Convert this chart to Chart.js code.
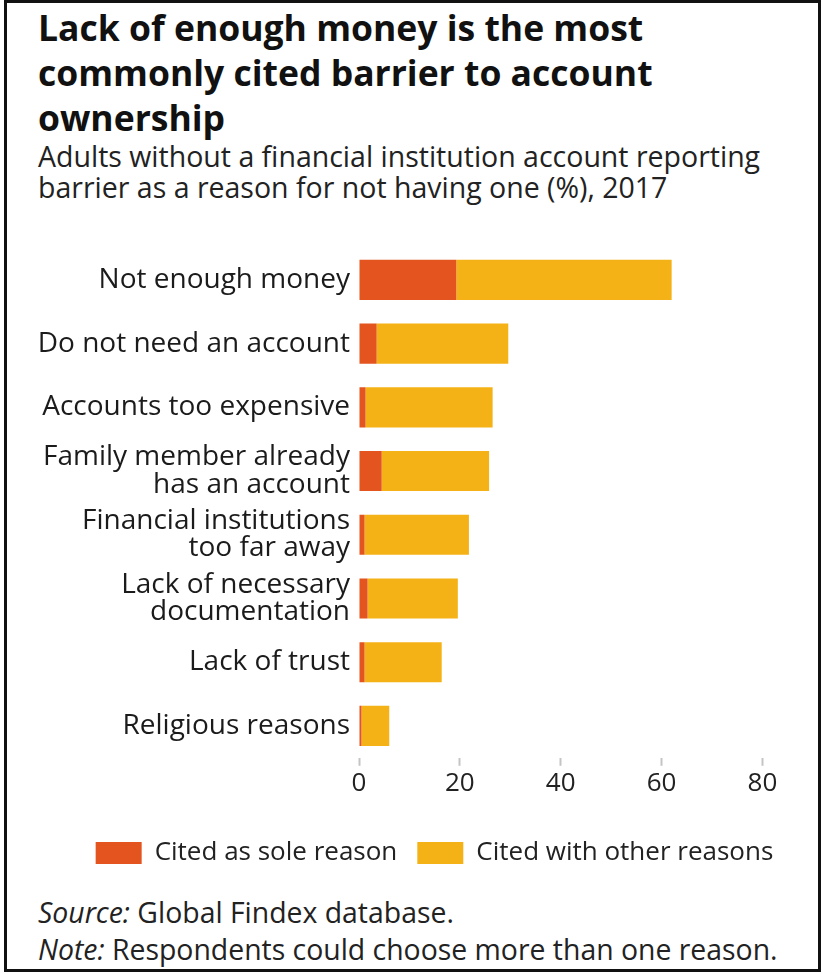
<!DOCTYPE html>
<html>
<head>
<meta charset="utf-8">
<script src="https://cdn.jsdelivr.net/npm/chart.js@4.4.1/dist/chart.umd.min.js"></script>
<style>
  body { margin: 0; background: #fff; }
  #page { position: relative; width: 822px; height: 974px; overflow: hidden; font-family: 'Open Sans', sans-serif; color: #1b1b1b; }
  #frame { position: absolute; left: 4px; top: 0px; width: 811px; height: 966px; border: 3px solid #111; }
  #title { position: absolute; left: 38px; top: 5px; margin: 0; font-family: 'Open Sans', sans-serif; font-weight: 700; font-size: 35.5px; line-height: 45px; color: #111; }
  #subtitle { position: absolute; left: 38px; top: 141px; margin: 0; font-size: 28.5px; line-height: 31px; color: #222; }
  #wrap { position: absolute; left: 0; top: 230px; width: 833px; height: 646px; }
  #notes { position: absolute; left: 38px; top: 894px; margin: 0; font-size: 28.4px; line-height: 37px; color: #222; }
</style>
</head>
<body>
<div id="page">
  <div id="frame"></div>
  <h1 id="title">Lack of enough money is the most<br>commonly cited barrier to account<br>ownership</h1>
  <p id="subtitle">Adults without a financial institution account reporting<br>barrier as a reason for not having one (%), 2017</p>
  <div id="wrap"><canvas id="barreras"></canvas></div>
  <p id="notes"><i>Source:</i> Global Findex database.<br><i>Note:</i> Respondents could choose more than one reason.</p>
</div>
<script>
// barriers, top to bottom
var razones = [
  'Not enough money',
  'Do not need an account',
  'Accounts too expensive',
  ['Family member already', 'has an account'],
  ['Financial institutions', 'too far away'],
  ['Lack of necessary', 'documentation'],
  'Lack of trust',
  'Religious reasons'
];
// % of adults without an account
var soloRazon = [19.3, 3.5, 1.3, 4.5, 1.1, 1.7, 1.1, 0.5];
var otrasRazones = [42.7, 26.1, 25.2, 21.3, 20.7, 17.9, 15.3, 5.5];
var ticksX = [0, 20, 40, 60, 80];

Chart.defaults.font.family = "'Open Sans', sans-serif";
Chart.defaults.color = '#222';

const data = {
  labels: razones,
  datasets: [{
    label: 'Cited as sole reason',
    data: soloRazon,
    backgroundColor: '#E3541F'
  }, {
    label: 'Cited with other reasons',
    data: otrasRazones,
    backgroundColor: '#F4B216'
  }]
};

const config = {
  type: 'bar',
  data: data,
  options: {
    indexAxis: 'y',
    responsive: true,
    maintainAspectRatio: false,
    animation: false,
    layout: { padding: { left: 36, top: 18, right: 0, bottom: 0 } },
    datasets: { bar: { barPercentage: 0.63, categoryPercentage: 1, borderWidth: 0 } },
    scales: {
      x: {
        stacked: true,
        min: 0,
        max: 94, // axis runs on past the last tick, no line drawn
        afterBuildTicks: function (scale) {
          scale.ticks = ticksX.map(function (v) { return { value: v }; });
        },
        afterFit: function (scale) { scale.height += 19; }, // room above the legend
        grid: { drawOnChartArea: false, drawTicks: true, tickLength: 8, tickWidth: 2, tickColor: '#c4c4c4' },
        border: { display: false },
        ticks: { font: { size: 26 }, padding: 2, color: '#222' }
      },
      y: {
        stacked: true,
        afterFit: function (scale) { scale.width = 323; },
        grid: { display: false },
        border: { display: false },
        ticks: { font: { size: 28, lineHeight: 0.97 }, padding: 1, color: '#1b1b1b' }
      }
    },
    plugins: {
      tooltip: { enabled: false },
      legend: {
        position: 'bottom',
        labels: { boxWidth: 46, boxHeight: 22, padding: 20, font: { size: 26 }, color: '#222' }
      }
    }
  }
};

const grafica = new Chart(document.getElementById('barreras'), config);
</script>
</body>
</html>
